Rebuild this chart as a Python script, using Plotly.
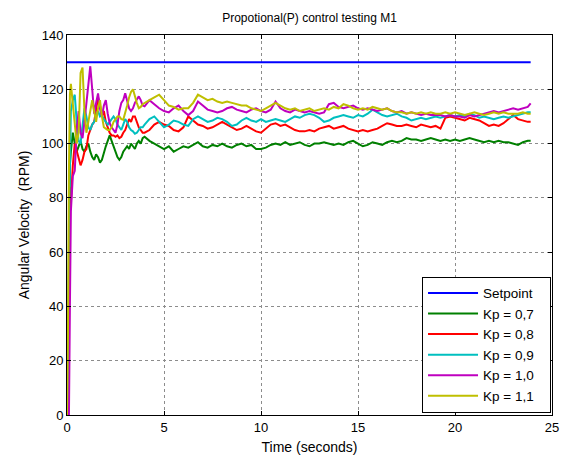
import plotly.graph_objects as go

# sample times (s): fine steps over the start-up, then 0.25 s
time_s = [
    0, 0.05, 0.1, 0.15, 0.2, 0.3, 0.4, 0.5, 0.6, 0.7, 0.8, 0.9, 1.0, 1.1, 1.2,
    1.3, 1.4, 1.5, 1.6, 1.7, 1.8, 1.9, 2.0, 2.1, 2.2, 2.3, 2.4, 2.5, 2.6, 2.7,
    2.8, 2.9, 3.0, 3.1, 3.2, 3.3, 3.4, 3.5, 3.6, 3.7, 3.8, 3.9, 4.0,
    4.25, 4.5, 4.75, 5.0, 5.25, 5.5, 5.75, 6.0, 6.25, 6.5, 6.75, 7.0,
    7.25, 7.5, 7.75, 8.0, 8.25, 8.5, 8.75, 9.0, 9.25, 9.5, 9.75, 10.0,
    10.25, 10.5, 10.75, 11.0, 11.25, 11.5, 11.75, 12.0, 12.25, 12.5, 12.75, 13.0,
    13.25, 13.5, 13.75, 14.0, 14.25, 14.5, 14.75, 15.0, 15.25, 15.5, 15.75, 16.0,
    16.25, 16.5, 16.75, 17.0, 17.25, 17.5, 17.75, 18.0, 18.25, 18.5, 18.75, 19.0,
    19.25, 19.5, 19.75, 20.0, 20.25, 20.5, 20.75, 21.0, 21.25, 21.5, 21.75, 22.0,
    22.25, 22.5, 22.75, 23.0, 23.25, 23.5, 23.75, 23.9,
]

setpoint_t = [0, 23.9]
setpoint_rpm = [130, 130]

kp_07 = [
    0, 0, 55, 92, 97, 104, 100, 97, 99, 101, 98, 97, 99, 100, 97, 95, 94, 96, 95, 93,
    94, 97, 99, 101, 103, 101, 99, 97, 95, 94, 95, 97, 98, 99, 98, 100, 99, 98, 100, 101,
    100, 102, 102.5,
    101, 100, 99, 98,
    99, 97, 98, 99,
    98.5, 99.5, 100.5, 99,
    98.5, 99.5, 99, 100,
    99, 98.5, 99.5, 100,
    99, 99.5, 98, 98,
    98.5, 99.5, 100, 99.5,
    100.5, 99.5, 100, 100.5,
    99.5, 99, 100, 100,
    100.5, 100, 99.5, 100,
    99.5, 100.5, 101, 100,
    99, 99.5, 100.5, 100,
    99.5, 100.5, 101, 100.5,
    101, 102, 101.5, 101.5,
    101, 101.5, 102, 101.5,
    101, 101.5, 101, 101.5,
    101, 101.5, 102, 101.5,
    101, 100.5, 101, 100.5,
    101, 100.5, 100.5, 100,
    99.5, 100.5, 101, 101,
]

kp_08 = [
    0, 0, 40, 84, 78, 92, 100, 97, 95, 92, 94, 97, 98, 103, 105, 107, 108, 112, 117, 114,
    110, 112, 108, 106, 104, 103, 103, 102.5, 103, 102, 102.5, 104, 105, 107, 109, 108,
    110, 110, 108, 106, 105, 104, 104,
    105, 107, 108, 107,
    106.5, 105, 104.5, 106,
    110, 108.5, 107, 106.5,
    105.5, 106, 107, 108,
    107, 106, 105, 105.5,
    106.5, 105.5, 104.5, 104,
    105.5, 107, 107.5, 106.5,
    107, 106, 105, 104.5,
    104.5, 105, 104.5, 105.5,
    106, 106.5, 105.5, 106,
    106.5, 105.5, 105, 104.5,
    105, 104.5, 105, 105.5,
    106.5, 107.5, 107, 106.5,
    106.5, 107, 106.5, 106,
    107, 106.5, 106, 106.5,
    105.5, 109.5, 110, 109.5,
    109, 108.5, 109.5, 109,
    108.5, 107.5, 106.5, 107,
    106.5, 107.5, 109, 110.5,
    109, 108.5, 108, 108,
]

kp_09 = [
    0, 0, 70, 100, 112, 116, 118, 108, 101, 100, 106, 113, 110, 106, 105, 107, 108, 110,
    112, 110, 110.5, 109, 108, 107, 108, 109, 110, 109, 107, 106, 105, 107, 109, 108, 106,
    105, 104.5, 103.6, 104, 105, 106, 106, 107,
    109, 110, 108, 106,
    107, 108.5, 108, 107,
    106.5, 109, 110, 109,
    108, 108.5, 109.5, 109,
    108, 106.5, 107, 108.5,
    109.5, 108.5, 108, 109,
    108, 108.5, 109, 108.5,
    108, 109, 110, 109.5,
    110.5, 111, 110.5, 109.5,
    108, 108.5, 109.5, 110,
    110.5, 110, 109.5, 110.5,
    110, 111, 112.5, 111.5,
    110.5, 110, 110.5, 111,
    110, 109.5, 108.5, 109,
    109.5, 109, 109.5, 110,
    109.5, 110, 110.5, 110,
    110.5, 110, 111, 110.5,
    109.5, 110, 109.5, 109,
    109.5, 110, 109.5, 110,
    110.5, 111, 111.5, 111.5,
]

kp_10 = [
    0, 0, 0, 40, 75, 88, 90, 105, 112, 104, 102, 108, 115, 122, 128.5, 120, 111, 115,
    118.5, 113, 110, 114, 116, 111, 107.5, 106, 105, 104, 107, 112, 115, 116, 118.5, 116,
    113, 112, 113, 115, 116, 117.4, 116, 114, 113.7,
    116, 114.5, 113, 112,
    111.5, 113, 114, 112,
    110.5, 112, 115.5, 114,
    112.5, 112, 111.5, 112,
    113, 113.5, 112.5, 112,
    111.5, 112.5, 113, 112,
    111.5, 112.5, 115.5, 113,
    112, 111.5, 112.5, 112,
    111.5, 112, 111.5, 111,
    111.5, 114.5, 115, 113.5,
    113, 113.5, 114, 113,
    112.5, 113, 112.5, 112,
    112.5, 113, 112, 111.5,
    112, 111, 111.5, 111,
    110.5, 111, 110.5, 110.5,
    110.5, 110, 110.5, 110,
    110, 109.5, 110.5, 110,
    110.5, 111, 111.5, 112,
    111.5, 112, 112.5, 113,
    112.5, 113, 113.5, 114.8,
]

kp_11 = [
    0, 30, 90, 118, 122, 115, 108, 100, 104, 126, 128, 112, 104, 108, 113, 116, 112, 108,
    113, 116, 110, 106, 105.5, 105, 105, 106, 108, 109, 110, 110, 109, 108.8, 111, 114,
    117, 119, 120, 117, 115, 113, 113.5, 114.5, 115,
    116, 117, 118, 116,
    114, 113.5, 112.5, 113,
    113, 115, 118, 117,
    116, 116.5, 115.5, 115,
    115.5, 115, 114.5, 114,
    114, 113, 112.5, 112,
    113, 114, 115, 114,
    113, 112.5, 113, 112,
    112.5, 113, 112, 112.5,
    113, 112.5, 113.5, 113,
    114.5, 114, 113, 112.5,
    113, 112.5, 113.5, 113,
    112.5, 113, 112, 111.5,
    111.5, 111, 111.5, 111,
    111.5, 111, 111.5, 111,
    111, 111.5, 111, 111.5,
    111, 110.5, 111, 111.5,
    111, 110.5, 111, 111.5,
    111, 111.5, 111, 111,
    111, 111.5, 111, 111,
]

series = [
    ("Kp = 0,7", kp_07, "#008000"),
    ("Kp = 0,8", kp_08, "#ff0000"),
    ("Kp = 0,9", kp_09, "#00bfbf"),
    ("Kp = 1,0", kp_10, "#bf00bf"),
    ("Kp = 1,1", kp_11, "#bfbf00"),
]

font = "Liberation Sans, Arial, sans-serif"
pad = "\u00a0\u00a0\u00a0"  # extra room on the right of the legend text

fig = go.Figure()
fig.add_trace(go.Scatter(x=setpoint_t, y=setpoint_rpm, mode="lines", name="Setpoint" + pad,
                         line=dict(color="#0000ff", width=2)))
for name, vals, color in series:
    fig.add_trace(go.Scatter(x=time_s, y=vals, mode="lines", name=name + pad,
                             line=dict(color=color, width=2)))

axis_style = dict(showline=True, linecolor="black", linewidth=1, mirror="ticks",
                  ticks="inside", ticklen=4, tickcolor="black",
                  showgrid=True, gridcolor="#8c8c8c", griddash="dot", gridwidth=1,
                  zeroline=False, automargin=False,
                  tickfont=dict(size=13, color="black"))

fig.update_xaxes(range=[0, 25], dtick=5, tick0=0, **axis_style,
                 title=dict(text="Time (seconds)", font=dict(size=14, color="black"), standoff=8))
fig.update_yaxes(range=[0, 140], dtick=20, tick0=0, **axis_style,
                 title=dict(text="Angular Velocity  (RPM)", font=dict(size=14, color="black"), standoff=8))

fig.update_layout(
    width=563, height=459,
    margin=dict(l=67, r=11, t=35, b=44),
    paper_bgcolor="white", plot_bgcolor="white",
    font=dict(family=font, size=13, color="black"),
    title=dict(text="Propotional(P) control testing M1", x=0.5, xref="paper", xanchor="center",
               y=0.962, yanchor="middle", font=dict(size=12, color="black")),
    legend=dict(x=0.998, y=0.006, xanchor="right", yanchor="bottom",
                bgcolor="white", bordercolor="black", borderwidth=1,
                font=dict(size=13.5, color="black"), itemwidth=50),
    showlegend=True,
)

fig.write_html("out.html", config={"displayModeBar": False},
               post_script="document.body.style.margin='0';")
